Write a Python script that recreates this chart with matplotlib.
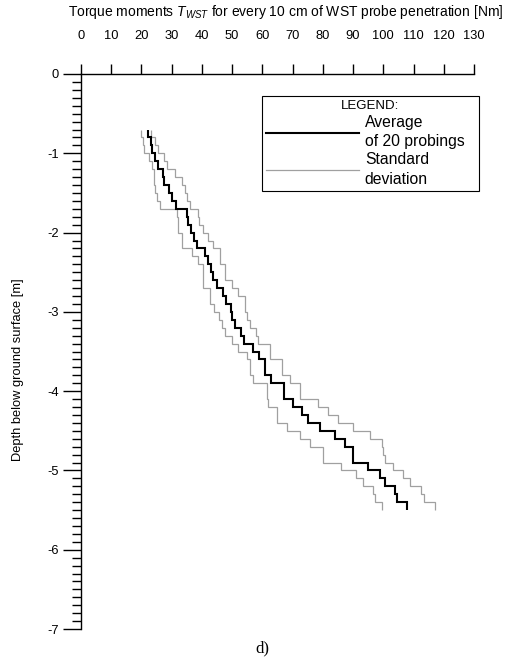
import numpy as np
import matplotlib
matplotlib.use("Agg")
import matplotlib.pyplot as plt

plt.rcParams["font.family"] = ["Liberation Sans", "DejaVu Sans"]
plt.rcParams["font.size"] = 9
plt.rcParams["axes.unicode_minus"] = False
plt.rcParams["mathtext.fontset"] = "custom"
plt.rcParams["mathtext.rm"] = "Liberation Sans"
plt.rcParams["mathtext.it"] = "Liberation Sans:italic"

# depth of the 10 cm intervals [m], from 0.7 m down to 5.5 m
depth_top = 0.7
depth_bottom = 5.5
step = 0.1

# torque moment per 10 cm interval [Nm]
mean_torque = [22, 23, 23.5, 24.5, 25.5, 27, 27.5, 29, 30, 31.5,
               35.2, 35.5, 36.5, 37.5, 38.5, 41, 42, 43, 43.5, 45,
               47, 48, 49.5, 50, 51, 53, 54, 57, 59, 61,
               61, 63, 67, 67, 70, 73, 75, 79, 84, 87.3,
               90, 90, 95, 99, 100.5, 104, 104.5, 108]
lower_std = [20, 20.5, 21, 22.5, 23.5, 24, 24, 24.5, 25, 26,
             31.6, 32, 32, 33.3, 33.3, 36.6, 38.8, 40.2, 40.2, 40.5,
             42.7, 42.7, 44, 45.5, 46.5, 47.5, 50, 52, 55, 56,
             56, 57, 61.5, 61.5, 62, 64.7, 64.7, 68, 72.4, 75.7,
             80.2, 80.2, 86, 91, 93.4, 96.7, 97.3, 99.5]
upper_std = [23, 24.5, 25.5, 27.5, 28.5, 31, 33.5, 34.5, 35, 36,
             38.8, 39, 40.5, 42, 43.8, 46, 46, 47.6, 47.6, 49.8,
             52, 54.2, 54.2, 55, 56, 58, 58.7, 62.5, 62.5, 66.4,
             66.4, 69, 72.4, 72.4, 78.5, 81.8, 85, 90, 95.5, 99.5,
             100, 100.5, 103.3, 106.5, 108.8, 112.5, 113.3, 117]

edges = -np.round(np.arange(depth_top, depth_bottom + step / 2, step), 1)

fig = plt.figure(figsize=(5.1, 6.65), dpi=100)
ax = fig.add_axes([81 / 510, 1 - 629 / 665, 393 / 510, 555 / 665])

gray = "#a0a0a0"
ax.stairs(lower_std, edges, orientation="horizontal", baseline=None,
          color=gray, lw=0.9, label="Standard\ndeviation")
ax.stairs(upper_std, edges, orientation="horizontal", baseline=None,
          color=gray, lw=0.9)
ax.stairs(mean_torque, edges, orientation="horizontal", baseline=None,
          color="black", lw=1.5, label="Average\nof 20 probings")

ax.set_xlim(0, 130)
ax.set_ylim(-7, 0)
ax.set_xticks(np.arange(0, 131, 10))
ax.set_yticks(np.arange(-7, 1, 1))
ax.set_yticks(np.arange(-7, 0.01, 0.1), minor=True)

ax.spines["right"].set_visible(False)
ax.spines["bottom"].set_visible(False)
for s in ("top", "left"):
    ax.spines[s].set_linewidth(1.0)
ax.xaxis.tick_top()
ax.tick_params(axis="x", which="major", direction="out", length=7, width=1.0,
               pad=16, labelsize=9.3)
ax.tick_params(axis="y", which="major", direction="out", length=13, width=1.0,
               pad=3, labelsize=9.3)
ax.tick_params(axis="y", which="minor", direction="out", length=6.5, width=1.0)
ax.tick_params(axis="x", which="minor", length=0)

ax.xaxis.set_label_position("top")
ax.set_xlabel("Torque moments $T_{WST}$ for every 10 cm of WST probe penetration [Nm]",
              fontsize=10)
ax.xaxis.set_label_coords((286 - 81) / 393, 1 + (74 - 12) / 555)
ax.xaxis.label.set_va("center")
ax.set_ylabel("Depth below ground surface [m]", fontsize=9.3)
ax.yaxis.set_label_coords((18 - 81) / 393, 1 - (370 - 74) / 555)
ax.yaxis.label.set_va("center")

# legend box spans 262..479 px horizontally, top edge at 96 px
x0 = (262 - 81) / 393
x1 = (479 - 81) / 393
y_top = 1 - (96 - 74) / 555
handles, labels = ax.get_legend_handles_labels()
leg = ax.legend(handles[::-1], labels[::-1], title="LEGEND:",
                loc="upper left", bbox_to_anchor=(x0, y_top - 0.3, x1 - x0, 0.3),
                mode="expand", borderaxespad=0, fancybox=False, edgecolor="black",
                prop={"size": 11.3}, title_fontsize=9.5,
                handlelength=5.9, handletextpad=0.4, labelspacing=0.2,
                borderpad=0.25, framealpha=1)
leg.get_frame().set_linewidth(0.8)
for t in leg.get_texts():
    t.set_linespacing(1.35)

fig.text(262 / 510, 1 - 648 / 665, "d)", family="Liberation Serif",
         fontsize=12, ha="center", va="center")

fig.savefig("out.png", dpi=100)
